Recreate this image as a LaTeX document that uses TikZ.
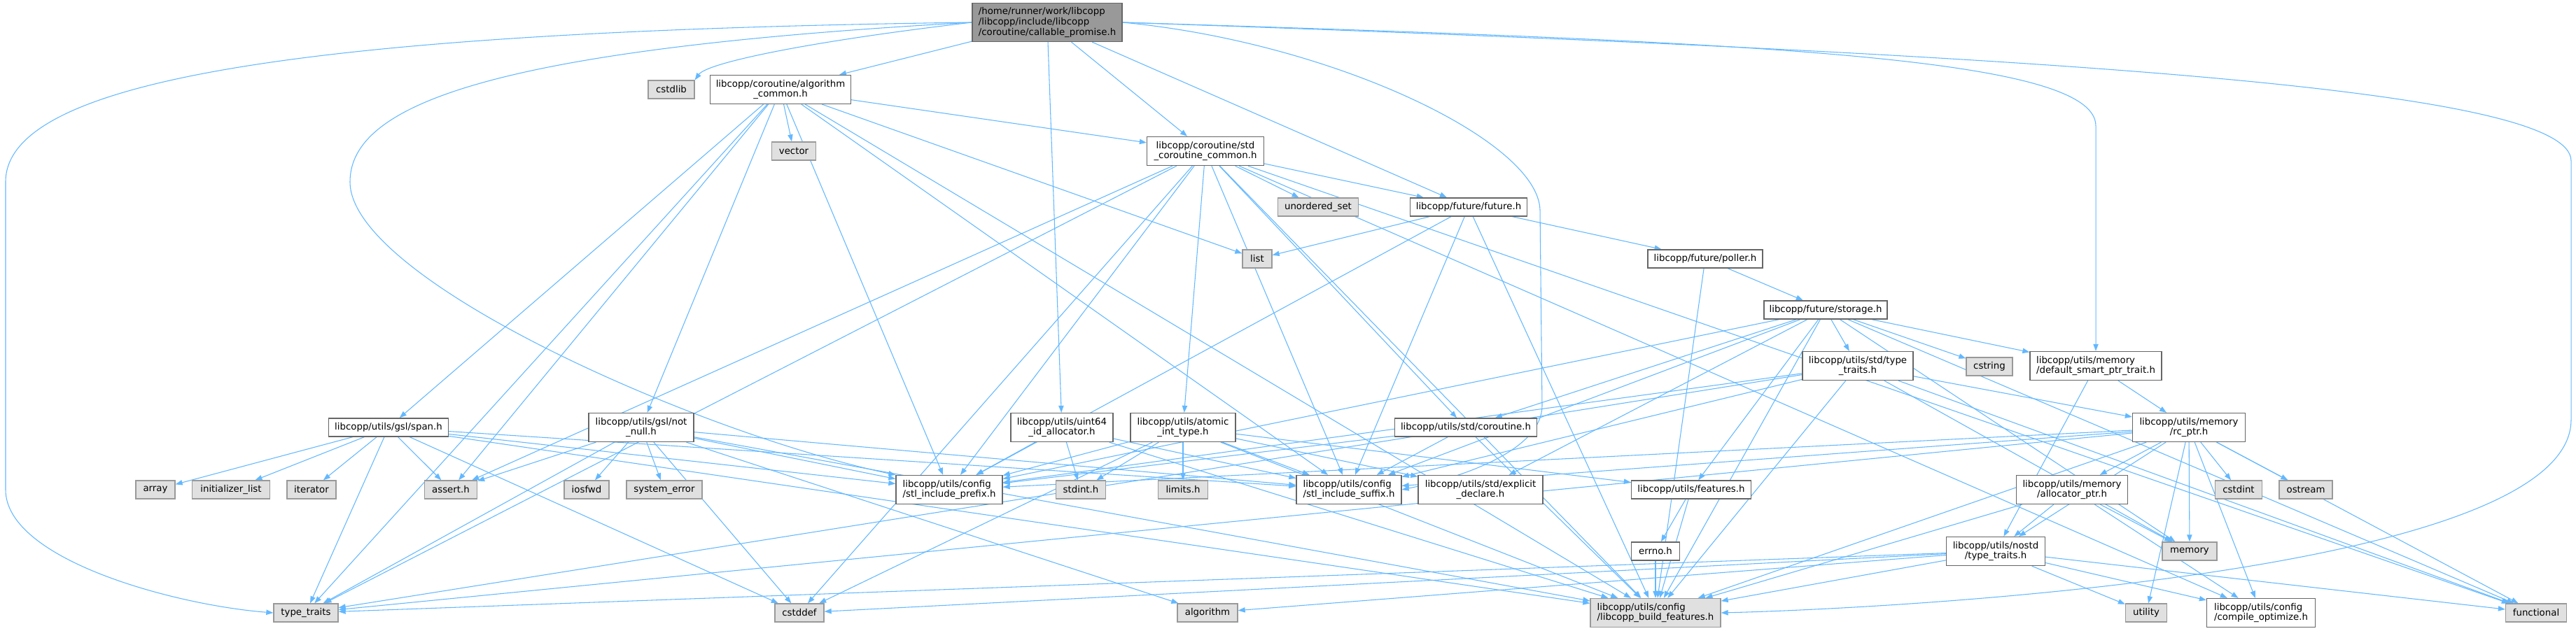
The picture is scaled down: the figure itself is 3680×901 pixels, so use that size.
\documentclass[tikz,border=0pt]{standalone}
\usepackage{fontspec}
\setmainfont{DejaVu Sans}
\usetikzlibrary{arrows.meta,positioning}
\definecolor{edgeblue}{HTML}{63B8FF}
\definecolor{rootfill}{HTML}{999999}
\definecolor{sysfill}{HTML}{E0E0E0}
\definecolor{boxline}{HTML}{666666}
\definecolor{sysline}{HTML}{999999}
\pgfdeclarelayer{edges}
\pgfsetlayers{edges,main}

\begin{document}
\begin{tikzpicture}[
  x=0.75pt, y=-0.75pt,
  >={Stealth[length=7.5pt,width=5.5pt,inset=0pt]},
  file/.style={draw=boxline,fill=white,line width=1pt,font=\fontsize{10}{11}\selectfont,
    inner xsep=2pt,inner ysep=2pt,minimum height=19.5pt,align=center},
  two/.style={minimum height=30.75pt},
  sys/.style={file,fill=sysfill,draw=sysline},
  root/.style={file,fill=rootfill,draw=boxline,align=left,minimum height=41.25pt},
  dep/.style={->,draw=edgeblue,line width=0.8pt}
]
  \useasboundingbox (0,0) rectangle (3680,901);

  % top part
  \node[root,minimum width=160.5pt] (main) at (1496,32)
    {/home/runner/work/libcopp\\/libcopp/include/libcopp\\/coroutine/callable\_promise.h};
  \node[sys,minimum width=49.5pt] (cstdlib) at (959,128) {cstdlib};
  \node[file,two,minimum width=150.75pt] (algocommon) at (1115,128) {libcopp/coroutine/algorithm\\\_common.h};
  \node[sys,minimum width=47.25pt] (vector) at (1134,216) {vector};
  \node[file,two,minimum width=125.25pt] (stdcorocommon) at (1722,216) {libcopp/coroutine/std\\\_coroutine\_common.h};
  \node[sys,minimum width=86.25pt] (unorderedset) at (1883,296) {unordered\_set};
  \node[file,minimum width=125.25pt] (future) at (2098,296) {libcopp/future/future.h};
  \node[sys,minimum width=31.5pt] (list) at (1796,370) {list};
  \node[file,minimum width=123pt] (poller) at (2436,370) {libcopp/future/poller.h};
  \node[file,minimum width=132pt] (storage) at (2608,443) {libcopp/future/storage.h};
  \node[file,two,minimum width=118.5pt] (stdtypetraits) at (2654,523) {libcopp/utils/std/type\\\_traits.h};
  \node[sys,minimum width=49.5pt] (cstring) at (2842,524) {cstring};
  \node[file,two,align=left,minimum width=141pt] (smartptrtrait) at (2994,523) {libcopp/utils/memory\\/default\_smart\_ptr\_trait.h};

  % middle rows
  \node[file,minimum width=128.25pt] (span) at (555,611) {libcopp/utils/gsl/span.h};
  \node[file,two,minimum width=112.5pt] (notnull) at (916,611) {libcopp/utils/gsl/not\\\_null.h};
  \node[file,two,minimum width=109.5pt] (uintalloc) at (1517,611) {libcopp/utils/uint64\\\_id\_allocator.h};
  \node[file,two,minimum width=112.5pt] (atomicint) at (1690,611) {libcopp/utils/atomic\\\_int\_type.h};
  \node[file,minimum width=152.25pt] (stdcoroutine) at (2094,611) {libcopp/utils/std/coroutine.h};
  \node[file,two,minimum width=120.75pt] (rcptr) at (3127,611) {libcopp/utils/memory\\/rc\_ptr.h};

  \node[sys,minimum width=42pt] (array) at (222,700) {array};
  \node[sys,minimum width=83.25pt] (initlist) at (330,700) {initializer\_list};
  \node[sys,minimum width=52.5pt] (iterator) at (445,700) {iterator};
  \node[sys,minimum width=56.25pt] (asserth) at (644,700) {assert.h};
  \node[sys,minimum width=48pt] (iosfwd) at (838,700) {iosfwd};
  \node[sys,minimum width=81pt] (syserror) at (949,700) {system\_error};
  \node[file,two,align=left,minimum width=114pt] (stlprefix) at (1356,700) {libcopp/utils/config\\/stl\_include\_prefix.h};
  \node[sys,minimum width=53.25pt] (stdint) at (1544,700) {stdint.h};
  \node[sys,minimum width=53.25pt] (limits) at (1690,700) {limits.h};
  \node[file,two,align=left,minimum width=112.5pt] (stlsuffix) at (1927,700) {libcopp/utils/config\\/stl\_include\_suffix.h};
  \node[file,two,minimum width=133.5pt] (explicitdecl) at (2115,700) {libcopp/utils/std/explicit\\\_declare.h};
  \node[file,minimum width=128.25pt] (features) at (2416,700) {libcopp/utils/features.h};
  \node[file,two,minimum width=119.25pt] (allocptr) at (2960,700) {libcopp/utils/memory\\/allocator\_ptr.h};
  \node[sys,minimum width=50.25pt] (cstdint) at (3198,700) {cstdint};
  \node[sys,minimum width=57pt] (ostream) at (3294,700) {ostream};

  \node[file,minimum width=51.75pt] (errno) at (2365,788) {errno.h};
  \node[file,two,minimum width=105.75pt] (nostdtt) at (2851,788) {libcopp/utils/nostd\\/type\_traits.h};
  \node[sys,minimum width=58.5pt] (memory) at (3128,788) {memory};

  % bottom row
  \node[sys,minimum width=69pt] (typetraits) at (437,876) {type\_traits};
  \node[sys,minimum width=52.5pt] (cstddef) at (1142,876) {cstddef};
  \node[sys,minimum width=64.5pt] (algorithm) at (1725,876) {algorithm};
  \node[sys,two,align=left,minimum width=139.5pt] (buildfeat) at (2365,876) {libcopp/utils/config\\/libcopp\_build\_features.h};
  \node[sys,minimum width=44.25pt] (utility) at (3066,876) {utility};
  \node[file,two,align=left,minimum width=116.25pt] (compileopt) at (3230,876) {libcopp/utils/config\\/compile\_optimize.h};
  \node[sys,minimum width=65.25pt] (functional) at (3623,876) {functional};

  \begin{pgfonlayer}{edges}
  % long ones from the main header
  \draw[dep] (main.west) .. controls (400,45) and (8,120) .. (8,260) -- (8,700)
    .. controls (8,800) and (250,865) .. (typetraits.west);
  \draw[dep] (main.west) .. controls (700,70) and (500,150) .. (500,260)
    .. controls (500,400) and (1000,620) .. (stlprefix.north west);
  \draw[dep] (main.west) .. controls (1150,60) and (1010,90) .. (cstdlib.north east);
  \draw[dep] (main.east) .. controls (1900,60) and (2197,200) .. (2200,300) -- (2203,580)
    .. controls (2203,640) and (2100,680) .. (stlsuffix.east);
  \draw[dep] (main.east) .. controls (2500,60) and (2994,80) .. (2994,180) -- (smartptrtrait.north);
  \draw[dep] (main.east) .. controls (3000,80) and (3673,130) .. (3673,230) -- (3673,600)
    .. controls (3673,820) and (2700,870) .. (buildfeat.east);

  \begin{scope}[every edge/.style={dep}]
  \path (main) edge (algocommon) edge (stdcorocommon) edge (future) edge (uintalloc);
  \path (algocommon) edge (typetraits) edge (span) edge (asserth) edge (notnull)
    edge (stlprefix) edge (vector) edge (buildfeat) edge (list) edge (stlsuffix)
    edge (stdcorocommon);
  \path (stdcorocommon) edge (typetraits) edge (asserth) edge (stlprefix) edge (cstddef)
    edge (atomicint) edge (buildfeat) edge (stlsuffix) edge (unorderedset) edge (future)
    edge (compileopt) edge (functional) edge (stdcoroutine);
  \path (future) edge (list) edge (stlprefix) edge (stlsuffix) edge (buildfeat) edge (poller);
  \path (poller) edge (storage) edge (buildfeat);
  \path (storage) edge (stdcoroutine) edge (stlprefix) edge (stlsuffix) edge (explicitdecl)
    edge (features) edge (stdtypetraits) edge (cstring) edge (smartptrtrait)
    edge (buildfeat) edge (memory) edge (functional);
  \path (stdtypetraits) edge (typetraits) edge (stlprefix) edge (stlsuffix) edge (buildfeat)
    edge (rcptr) edge (memory) edge (functional);
  \path (smartptrtrait) edge (rcptr) edge (nostdtt);
  \path (rcptr) edge (allocptr) edge (nostdtt) edge (cstdint) edge (ostream) edge (memory)
    edge (utility) edge (functional) edge (compileopt) edge (buildfeat) edge (typetraits)
    edge (stlprefix) edge (stlsuffix);
  \path (allocptr) edge (nostdtt) edge (memory) edge (compileopt) edge (buildfeat);
  \path (nostdtt) edge (typetraits) edge (cstddef) edge (algorithm) edge (buildfeat)
    edge (utility) edge (compileopt) edge (functional);
  \path (span) edge (array) edge (initlist) edge (iterator) edge (asserth) edge (typetraits)
    edge (cstddef) edge (stlprefix) edge (stlsuffix) edge (buildfeat);
  \path (notnull) edge (asserth) edge (iosfwd) edge (syserror) edge (typetraits)
    edge (cstddef) edge (stlprefix) edge (stlsuffix) edge (buildfeat) edge (algorithm);
  \path (uintalloc) edge (stlprefix) edge (stdint) edge (stlsuffix) edge (buildfeat);
  \path (atomicint) edge (stlprefix) edge (stdint) edge (limits) edge (stlsuffix)
    edge (features) edge (buildfeat) edge (cstddef) edge (explicitdecl);
  \path (stdcoroutine) edge (stlprefix) edge (stlsuffix) edge (buildfeat);
  \path (features) edge (errno) edge (buildfeat);
  \path (errno) edge (buildfeat);
  \end{scope}
  \end{pgfonlayer}
\end{tikzpicture}
\end{document}
